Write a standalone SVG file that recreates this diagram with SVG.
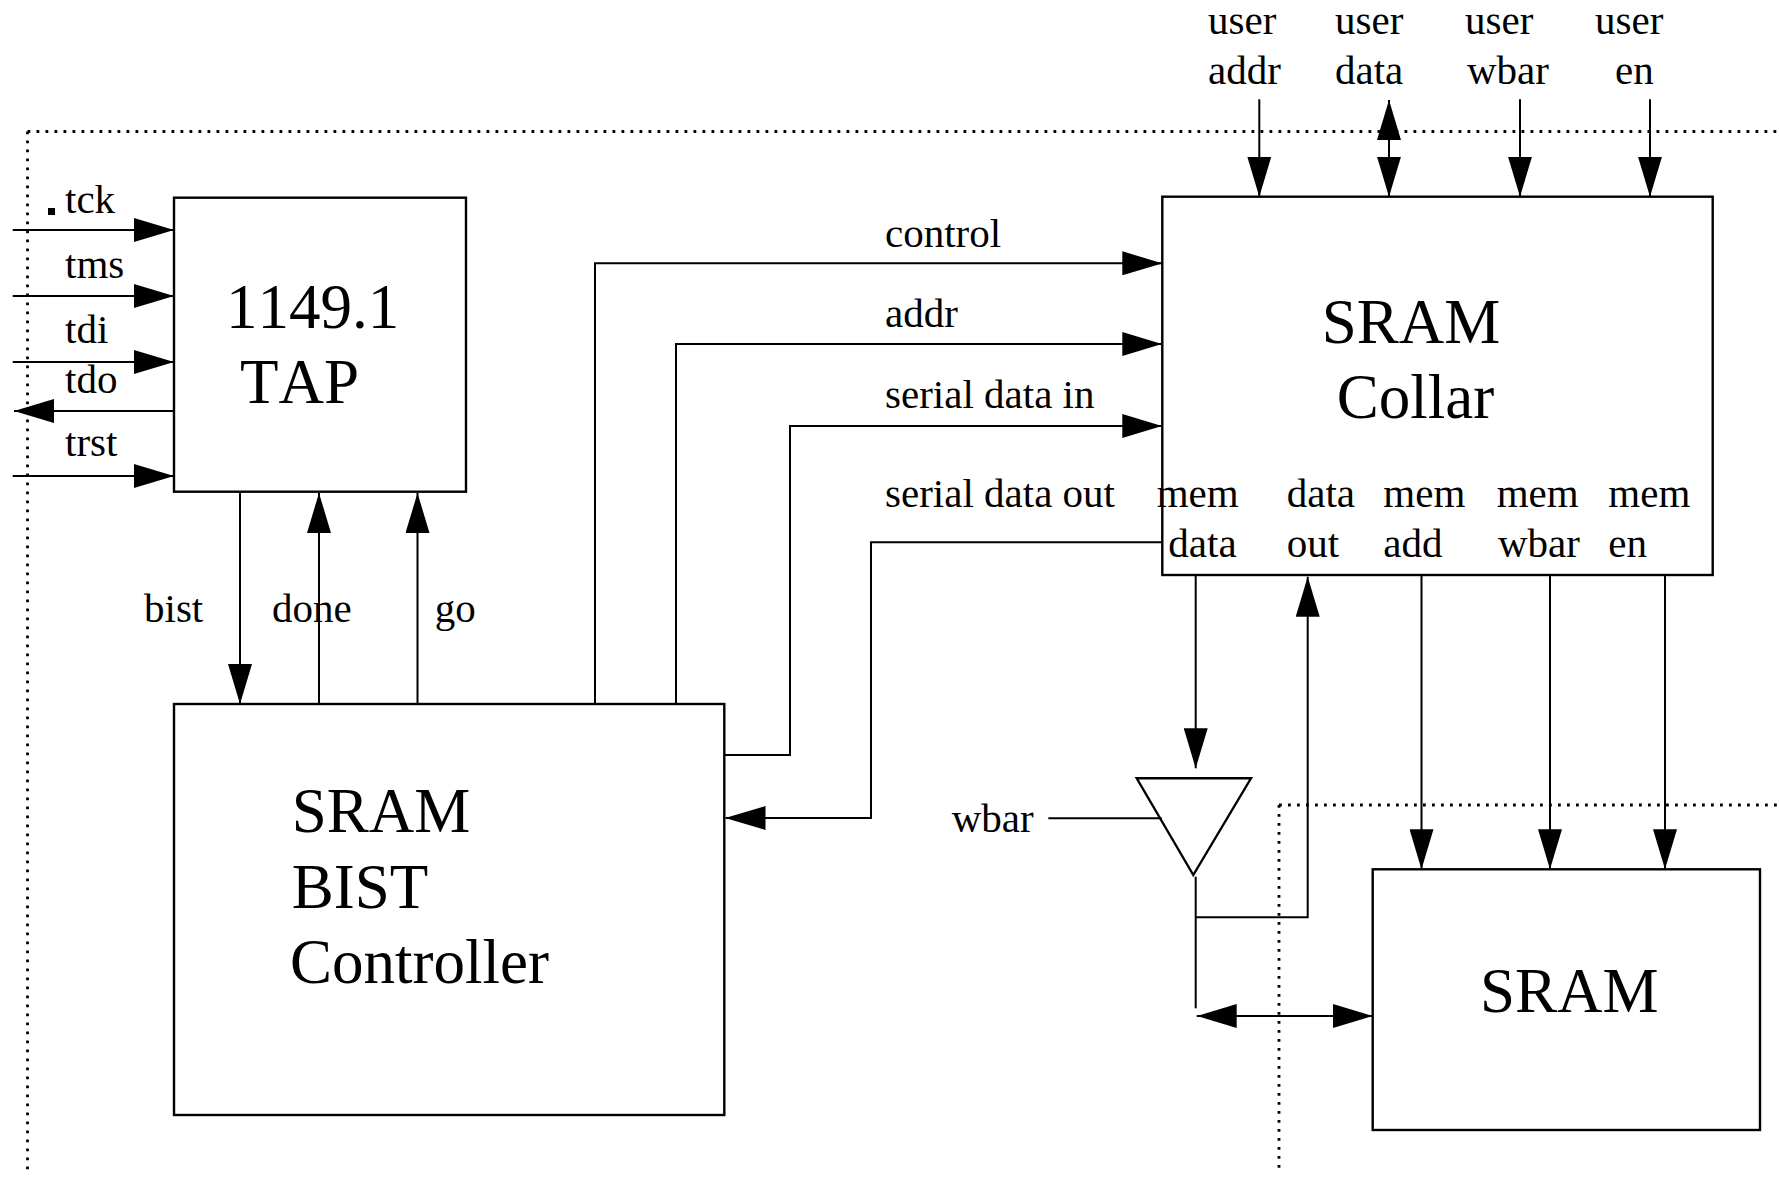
<svg xmlns="http://www.w3.org/2000/svg" width="1779" height="1178" viewBox="0 0 1779 1178">
<style>
.bg{fill:#fff}
.box{fill:#fff;stroke:#000;stroke-width:2.4}
.ln{fill:none;stroke:#000;stroke-width:2}
.ar{fill:none;stroke:#000;stroke-width:2;marker-end:url(#ah)}
.ar2{fill:none;stroke:#000;stroke-width:2;marker-end:url(#ah);marker-start:url(#ahs)}
.dot{fill:none;stroke:#000;stroke-width:2.8;stroke-dasharray:2.8 6.2}
.t{font-family:"Liberation Serif","Times New Roman",serif;font-size:41px;fill:#000;font-kerning:none}
.big{font-family:"Liberation Serif","Times New Roman",serif;font-size:63px;fill:#000;font-kerning:none}
</style>
<defs>
<marker id="ah" markerUnits="userSpaceOnUse" markerWidth="40" markerHeight="24" refX="40" refY="12" orient="auto">
<path d="M0,0 L40,12 L0,24 Z" fill="#000"/>
</marker>
<marker id="ahs" markerUnits="userSpaceOnUse" markerWidth="40" markerHeight="24" refX="40" refY="12" orient="auto-start-reverse">
<path d="M0,0 L40,12 L0,24 Z" fill="#000"/>
</marker>
</defs>
<rect class="bg" x="0" y="0" width="1779" height="1178"/>

<g id="boundaries">
<path class="dot" d="M27.5,131.5 H1779 M27.5,131.5 V1174"/>
<path class="dot" d="M1279,805 H1779 M1279,805 V1174"/>
</g>

<g id="tap">
<rect class="box" x="174" y="197.7" width="292" height="294"/>
<text class="big" x="226" y="328">1149.1</text>
<text class="big" x="240" y="403">TAP</text>
</g>

<g id="bist">
<rect class="box" x="174" y="704" width="550.3" height="411"/>
<text class="big" x="291.7" y="831.7">SRAM</text>
<text class="big" x="291.7" y="907.7">BIST</text>
<text class="big" x="290" y="983.3">Controller</text>
</g>

<g id="collar">
<rect class="box" x="1162.3" y="196.7" width="550.4" height="378.3"/>
<text class="big" x="1321.7" y="343.3">SRAM</text>
<text class="big" x="1336.7" y="418.3">Collar</text>
</g>

<g id="sram">
<rect class="box" x="1372.7" y="869.3" width="387.3" height="260.7"/>
<text class="big" x="1480" y="1011.7">SRAM</text>
</g>

<g id="buffer">
<polygon class="box" points="1136.7,778.3 1251,778.3 1193.3,875"/>
</g>

<g id="connectors">
<path class="ar" d="M12.7,230 H174"/>
<path class="ar" d="M12.7,296 H174"/>
<path class="ar" d="M12.7,362 H174"/>
<path class="ar" d="M174,411 H14"/>
<path class="ar" d="M12.7,476 H174"/>
<path class="ar" d="M240,491.7 V704"/>
<path class="ar" d="M319,704 V493"/>
<path class="ar" d="M417.5,704 V493"/>
<path class="ar" d="M595,704 V263.3 H1162.3"/>
<path class="ar" d="M676,704 V344 H1162.3"/>
<path class="ar" d="M724.3,755 H790 V426 H1162.3"/>
<path class="ar" d="M1162.3,542.3 H871 V818 H725.5"/>
<path class="ar" d="M1259.3,99.3 V196.7"/>
<path class="ar2" d="M1389,100 V196.7"/>
<path class="ar" d="M1520,99.3 V196.7"/>
<path class="ar" d="M1650,99.3 V196.7"/>
<path class="ar" d="M1195.7,575 V768.3"/>
<path class="ar" d="M1195.7,917.3 H1307.7 V576.7"/>
<path class="ln" d="M1195.7,876.7 V1008.3"/>
<path class="ar2" d="M1196.7,1016 H1372.7"/>
<path class="ar" d="M1421.5,575 V869.3"/>
<path class="ar" d="M1550,575 V869.3"/>
<path class="ar" d="M1665,575 V869.3"/>
<path class="ln" d="M1048.3,818.3 H1161.7"/>
</g>

<g id="labels">
<rect x="48" y="208" width="7" height="7" fill="#000"/>
<text class="t" x="65" y="213">tck</text>
<text class="t" x="65" y="278">tms</text>
<text class="t" x="65" y="343">tdi</text>
<text class="t" x="65" y="393">tdo</text>
<text class="t" x="65" y="456">trst</text>
<text class="t" x="144" y="621.7">bist</text>
<text class="t" x="272" y="621.7">done</text>
<text class="t" x="434.7" y="621.7">go</text>
<text class="t" x="885" y="246.7">control</text>
<text class="t" x="885" y="327.3">addr</text>
<text class="t" x="885" y="408.3">serial data in</text>
<text class="t" x="885" y="506.7">serial data out</text>
<text class="t" x="1208" y="34.3">user</text>
<text class="t" x="1208" y="84.3">addr</text>
<text class="t" x="1335" y="34.3">user</text>
<text class="t" x="1335" y="84.3">data</text>
<text class="t" x="1465" y="34.3">user</text>
<text class="t" x="1467" y="84.3">wbar</text>
<text class="t" x="1595" y="34.3">user</text>
<text class="t" x="1615" y="84.3">en</text>
<text class="t" x="1156.7" y="507.3">mem</text>
<text class="t" x="1168.3" y="557.3">data</text>
<text class="t" x="1286.7" y="507.3">data</text>
<text class="t" x="1286.7" y="557.3">out</text>
<text class="t" x="1383.3" y="507.3">mem</text>
<text class="t" x="1383.3" y="557.3">add</text>
<text class="t" x="1496.7" y="507.3">mem</text>
<text class="t" x="1498" y="557.3">wbar</text>
<text class="t" x="1608.3" y="507.3">mem</text>
<text class="t" x="1608.3" y="557.3">en</text>
<text class="t" x="951.7" y="831.7">wbar</text>
</g>
</svg>
